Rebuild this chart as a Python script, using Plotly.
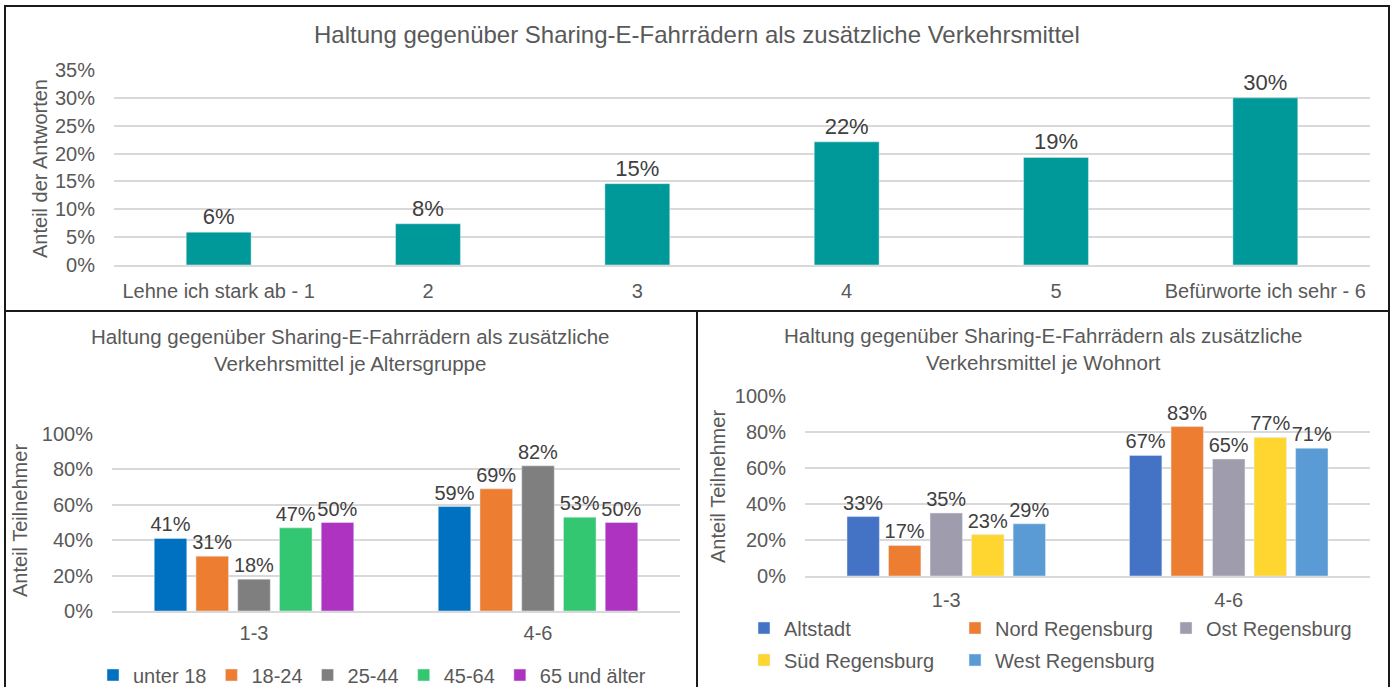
import plotly.graph_objects as go

W, H = 1395, 687

# top chart
stufen = ["Lehne ich stark ab - 1", "2", "3", "4", "5", "Befürworte ich sehr - 6"]
anteil = [0.059, 0.074, 0.146, 0.221, 0.193, 0.300]
anteil_labels = ["6%", "8%", "15%", "22%", "19%", "30%"]

# bottom charts
gruppen = ["1-3", "4-6"]
alter = ["unter 18", "18-24", "25-44", "45-64", "65 und älter"]
alter_werte = [[0.41, 0.59], [0.31, 0.69], [0.18, 0.82], [0.47, 0.53], [0.50, 0.50]]
alter_farben = ["#0070C0", "#ED7D31", "#7F7F7F", "#33C772", "#AE33C1"]

wohnort = ["Altstadt", "Nord Regensburg", "Ost Regensburg", "Süd Regensburg", "West Regensburg"]
wohnort_werte = [[0.33, 0.67], [0.17, 0.83], [0.35, 0.65], [0.23, 0.77], [0.29, 0.71]]
wohnort_farben = ["#4472C4", "#ED7D31", "#9E9CAD", "#FFD530", "#5B9BD5"]

FONT = "Liberation Sans, Arial, sans-serif"
GREY = "#595959"
DARK = "#404040"
GRID = "#D9D9D9"


def px(x):
    return x / W


def py(y):
    return 1 - y / H


fig = go.Figure()

fig.add_trace(go.Bar(
    x=stufen, y=anteil, text=anteil_labels, textposition="outside",
    textfont=dict(size=22, color=DARK), marker_color="#009999",
    width=0.31, cliponaxis=False, showlegend=False, constraintext="none",
    xaxis="x", yaxis="y",
))

for name, vals, col in zip(alter, alter_werte, alter_farben):
    fig.add_trace(go.Bar(
        x=gruppen, y=vals, name=name, marker_color=col,
        texttemplate="%{y:.0%}", textposition="outside", constraintext="none",
        textfont=dict(size=20, color=DARK), cliponaxis=False,
        xaxis="x2", yaxis="y2", legend="legend",
    ))

for i, (name, vals, col) in enumerate(zip(wohnort, wohnort_werte, wohnort_farben)):
    fig.add_trace(go.Bar(
        x=gruppen, y=vals, name=name, marker_color=col,
        texttemplate="%{y:.0%}", textposition="outside", constraintext="none",
        textfont=dict(size=20, color=DARK), cliponaxis=False,
        xaxis="x3", yaxis="y3", legend="legend2" if i < 3 else "legend3",
    ))

yax = dict(tickformat=".0%", showgrid=True, gridcolor=GRID, gridwidth=1.5,
           zeroline=False, showline=False, ticks="outside", ticklen=14,
           tickcolor="rgba(0,0,0,0)", tickfont=dict(size=20, color=GREY))
xax = dict(showgrid=False, showline=True, linecolor=GRID, linewidth=1.5,
           ticks="outside", tickcolor="rgba(0,0,0,0)",
           tickfont=dict(size=20, color=GREY))

leg = dict(orientation="h", font=dict(size=20, color=GREY, family=FONT),
           bgcolor="rgba(0,0,0,0)", yanchor="middle", xanchor="left",
           traceorder="normal", itemwidth=30)

fig.update_layout(
    width=W, height=H,
    margin=dict(l=0, r=0, t=0, b=0, autoexpand=False),
    paper_bgcolor="white", plot_bgcolor="white",
    font=dict(family=FONT, color=GREY),
    barmode="group", bargap=0.265, bargroupgap=0.22,
    xaxis=dict(xax, domain=[px(114), px(1370)], anchor="y", ticklen=7),
    yaxis=dict(yax, domain=[py(265), py(70)], range=[0, 0.35], dtick=0.05, anchor="x"),
    xaxis2=dict(xax, domain=[px(112), px(680)], anchor="y2", ticklen=3),
    yaxis2=dict(yax, domain=[py(611), py(434)], range=[0, 1], dtick=0.2, anchor="x2"),
    xaxis3=dict(xax, domain=[px(805), px(1370)], anchor="y3", ticklen=5),
    yaxis3=dict(yax, domain=[py(576), py(396)], range=[0, 1], dtick=0.2, anchor="x3"),
    legend=dict(leg, x=px(93), y=py(675)),
    legend2=dict(leg, x=px(744), y=py(628), entrywidth=166),
    legend3=dict(leg, x=px(744), y=py(660), entrywidth=166),
)

titel = "Haltung gegenüber Sharing-E-Fahrrädern als zusätzliche Verkehrsmittel"
notes = [
    dict(text=titel, x=px(697), y=py(35), font=dict(size=24, color=GREY)),
    dict(text="Haltung gegenüber Sharing-E-Fahrrädern als zusätzliche<br>Verkehrsmittel je Altersgruppe",
         x=px(351), y=py(350), font=dict(size=20.5, color=GREY)),
    dict(text="Haltung gegenüber Sharing-E-Fahrrädern als zusätzliche<br>Verkehrsmittel je Wohnort",
         x=px(1043), y=py(349), font=dict(size=20.5, color=GREY)),
    dict(text="Anteil der Antworten", x=px(40), y=py(169), textangle=-90,
         font=dict(size=20, color=GREY)),
    dict(text="Anteil Teilnehmer", x=px(20), y=py(521), textangle=-90,
         font=dict(size=20, color=GREY)),
    dict(text="Anteil Teilnehmer", x=px(718), y=py(487), textangle=-90,
         font=dict(size=20, color=GREY)),
]
for a in notes:
    fig.add_annotation(a, xref="paper", yref="paper", showarrow=False,
                       xanchor="center", yanchor="middle")

# panel frames
for x0, y0, x1, y1 in [(5, 6, 1389, 311), (5, 311, 697, 700), (697, 311, 1389, 700)]:
    fig.add_shape(type="rect", xref="paper", yref="paper",
                  x0=px(x0), x1=px(x1), y0=py(y1), y1=py(y0),
                  line=dict(color="#1a1a1a", width=2))

# pin the chart to the top-left corner of the page
pin = ("var d=document.getElementById('{plot_id}');"
       "d.style.position='fixed';d.style.top='0';d.style.left='0';"
       "document.body.style.margin='0';"
       "document.documentElement.style.overflow='hidden';")
fig.write_html("out.html", config={"responsive": False, "displayModeBar": False},
               post_script=pin)
